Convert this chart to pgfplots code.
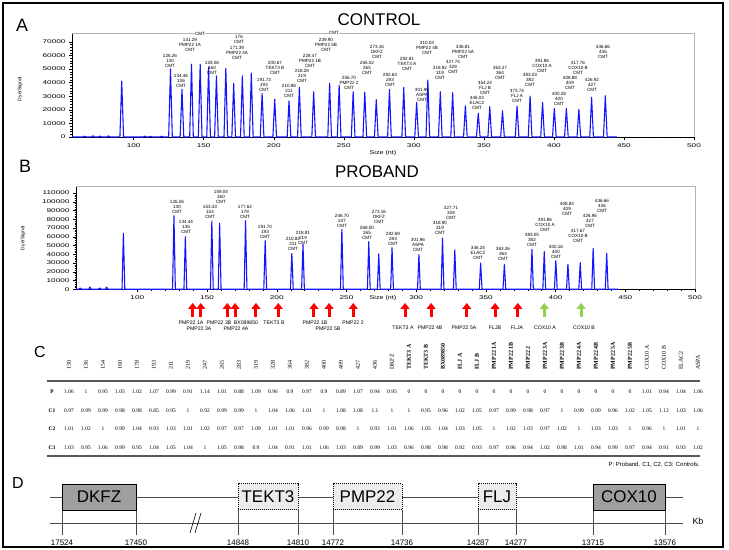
\documentclass[border=0pt]{standalone}
\usepackage{pgfplots}
\pgfplotsset{compat=1.18}
\usepackage{fontspec}
\setmainfont{Liberation Sans}
\newfontfamily\serif{Liberation Serif}
\usetikzlibrary{arrows.meta}
\definecolor{pkblue}{RGB}{20,20,255}
\definecolor{arrred}{RGB}{255,0,0}
\definecolor{arrgreen}{RGB}{146,208,80}
\newcommand\fs[2]{\fontsize{#1}{#2}\selectfont}
\newcommand\tl[1]{\scalebox{1.5}[1]{\fs{5.5}{6}\pgfmathprintnumber[fixed,1000 sep={},assume math mode=true]{#1}}}
\pgfplotsset{ekg/.style={scale only axis, anchor=south west, xmin=56, xmax=500, ymin=0,
  axis x line*=bottom, axis y line*=left, tick align=outside,
  major tick length=3bp, minor tick length=1.5bp,
  xtick={100,150,...,500}, minor x tick num=4, minor y tick num=4,
  scaled y ticks=false, tick style={black, line width=0.4pt},
  xticklabel={\tl{\tick}}, yticklabel={\tl{\tick}},
  axis line style={black,line width=0.5pt}, clip=false,
  after end axis/.code={\draw[gray!60,line width=0.8pt] (rel axis cs:0,1) -- (rel axis cs:1,1) -- (rel axis cs:1,0);}}}
\newcommand\pl[4]{\node[font=\fs{4.6}{5.3}, align=center, anchor=north, inner sep=0pt] at (#1,{#2-2.3}) {#3\\#4\\CMT};}
\begin{document}
\begin{tikzpicture}
\useasboundingbox (0,0) rectangle (729bp,550bp);
% ---------------- Panel A
\begin{axis}[ekg, at={(72bp,413bp)}, width=622bp, height=104bp, ymax=76500, ytick={0,10000,...,70000}]
\addplot[pkblue, line width=1.1pt, line join=round] table {
x y
56 0
64 0
65 600
66 0
70 0
71 900
72 0
75 0
76 700
77 0
81 0
82 800
83 0
90.2 0
91.5 41000
92.8 0
107 0
108 700
109 0
111 0
112 500
113 0
119 0
120 600
121 0
125 0
126.3 50000
127.6 0
133.2 0
134.5 35000
135.8 0
140 0
141.3 53500
142.6 0
146.2 0
147.5 53500
148.8 0
152.2 0
153.5 51500
154.8 0
157.8 0
159.1 45000
160.4 0
164.5 0
165.8 50500
167.1 0
170.1 0
171.4 39500
172.7 0
176.3 0
177.6 45000
178.9 0
182.7 0
184.0 47000
185.3 0
190.4 0
191.7 32000
193.0 0
199.4 0
200.7 27800
202.0 0
209.6 0
210.9 26500
212.2 0
217.0 0
218.3 36500
219.6 0
227.2 0
228.5 33300
229.8 0
238.6 0
239.9 39500
241.2 0
245.4 0
246.7 38200
248.0 0
255.4 0
256.7 33300
258.0 0
263.7 0
265.0 33000
266.3 0
271.9 0
273.2 27500
274.5 0
281.3 0
282.6 35000
283.9 0
291.5 0
292.8 36400
294.1 0
300.7 0
302.0 25500
303.3 0
308.7 0
310.0 41900
311.3 0
317.6 0
318.9 33300
320.2 0
326.4 0
327.7 32600
329.0 0
335.5 0
336.8 23000
338.1 0
344.7 0
346.0 17400
347.3 0
352.9 0
354.2 22300
355.5 0
362.0 0
363.3 19300
364.6 0
372.4 0
373.7 22800
375.0 0
381.7 0
383.0 30100
384.3 0
390.6 0
391.9 25500
393.2 0
399.0 0
400.3 21100
401.6 0
407.6 0
408.9 21100
410.2 0
416.5 0
417.8 20400
419.1 0
425.6 0
426.9 29200
428.2 0
435.4 0
436.7 30400
438.0 0
445 0
};
\end{axis}
% ---------------- Panel B
\begin{axis}[ekg, at={(76bp,260.7bp)}, width=619bp, height=103.3bp, ymax=118000, ytick={0,10000,...,110000}]
\addplot[pkblue, line width=1.1pt, line join=round] table {
x y
56 0
58 0
59 1500
60 0
65 0
66 2500
67 0
72 0
73 1500
74 0
77 0
78 2500
79 0
89 0
90 64000
91 0
125.26 0
126.26 84100
127.26 0
133.44 0
134.44 60100
135.44 0
152.43 0
153.43 78000
154.43 0
158.04 0
159.04 75400
160.04 0
176.62 0
177.62 78400
178.62 0
190.7 0
191.7 55600
192.7 0
209.82 0
210.82 41100
211.82 0
217.81 0
218.81 51400
219.81 0
245.7 0
246.7 68600
247.7 0
265 0
266 54400
267 0
272.16 0
273.16 40300
274.16 0
281.69 0
282.69 47600
283.69 0
300.96 0
301.96 39600
302.96 0
317.9 0
318.9 58300
319.9 0
326.71 0
327.71 44900
328.71 0
345.24 0
346.24 30000
347.24 0
362.26 0
363.26 28500
364.26 0
382.05 0
383.05 45700
384.05 0
390.86 0
391.86 43000
392.86 0
399.16 0
400.16 32700
401.16 0
407.84 0
408.84 28500
409.84 0
416.67 0
417.67 30400
418.67 0
425.96 0
426.96 46800
427.96 0
435.66 0
436.66 41100
437.66 0
445 0
};
\addplot[arrred, line width=3bp, -{Triangle[width=9bp,length=6bp]}, quiver={u=0,v=\thisrow{v}}] table {
x y v
139.7 -31600 16000
145.5 -31600 16000
164.5 -31600 16000
170.1 -31600 16000
185.1 -31600 16000
201.1 -31600 16000
226.7 -31600 16000
237.5 -31600 16000
254.9 -31600 16000
292.0 -31600 16000
310.7 -31600 16000
336.3 -31600 16000
356.6 -31600 16000
372.9 -31600 16000
};
\addplot[arrgreen, line width=3bp, -{Triangle[width=9bp,length=6bp]}, quiver={u=0,v=\thisrow{v}}] table {
x y v
391.9 -31600 16000
418.3 -31600 16000
};
\end{axis}
% ---------------- annotations in pixel coordinates
\begin{scope}[shift={(0,550bp)},x=1bp,y=-1bp]
\draw[line width=1.3bp] (3,3) rectangle (723,547);
\node[font=\fs{18}{18}] at (22,25) {A};
\node[font=\fs{18}{18}] at (25,166) {B};
\node[font=\fs{16}{16}] at (40,352) {C};
\node[font=\fs{16}{16}] at (18,483) {D};
\node[font=\fs{17}{17}] at (379,20) {CONTROL};
\node[font=\fs{17}{17}] at (377,172) {PROBAND};
\node[font=\fs{5}{5}, rotate=90] at (20,89) {Dye/Signal};
\node[font=\fs{5}{5}, rotate=90] at (23,238) {Dye/Signal};
\node[font=\fs{5.5}{5.5}] at (383,153) {\scalebox{1.3}[1]{Size (nt)}};
\node[font=\fs{5.5}{5.5}] at (383,298) {\scalebox{1.3}[1]{Size (nt)}};
% peak labels A
\node[font=\fs{4.6}{5.3}, fill=white, inner sep=0.5pt] at (200,34) {CMT};
\node[font=\fs{4.6}{5.3}, fill=white, inner sep=0.5pt] at (334,33) {CMT};
\node[font=\fs{4.6}{5.3}, align=center, anchor=north, inner sep=0pt] at (239,35) {176\\CMT};
\pl{190}{40}{141.29}{PMP22 1A}
\pl{237}{48}{171.39}{PMP22 4A}
\pl{170}{56}{126.26}{130}
\pl{212}{63}{159.06}{160}
\pl{275}{63}{200.67}{TEKT3 B}
\pl{181}{76}{134.46}{136}
\pl{264}{80}{191.73}{193}
\pl{302}{71}{218.28}{219}
\pl{289}{86}{210.88}{211}
\pl{310}{56}{228.47}{PMP22 1B}
\pl{326}{40}{239.90}{PMP22 5B}
\pl{349}{78}{256.70}{PMP22 2}
\pl{367}{63}{265.02}{265}
\pl{377}{47}{273.16}{DKFZ}
\pl{390}{75}{282.63}{283}
\pl{407}{59}{292.81}{TEKT3 A}
\pl{422}{90}{301.96}{ASPA}
\pl{427}{43}{310.03}{PMP22 4B}
\pl{440}{68}{318.92}{319}
\pl{453}{62}{327.74}{328}
\pl{463}{47}{336.81}{PMP22 5A}
\pl{477}{98}{346.03}{ELAC2}
\pl{485}{83}{354.24}{FLJ B}
\pl{500}{68}{363.27}{364}
\pl{517}{91}{373.74}{FLJ A}
\pl{530}{75}{383.03}{382}
\pl{542}{61}{391.86}{COX10 A}
\pl{559}{94}{400.28}{400}
\pl{570}{78}{408.88}{409}
\pl{578}{63}{417.76}{COX10 B}
\pl{592}{80}{426.92}{427}
\pl{603}{47}{436.66}{436}
% peak labels B
\pl{177}{202}{126.26}{130}
\pl{186}{222}{134.44}{136}
\pl{221}{192}{159.04}{160}
\pl{210}{207}{153.43}{154}
\pl{245}{207}{177.62}{178}
\pl{265}{227}{191.70}{193}
\pl{303}{233}{218.81}{219}
\pl{293}{239}{210.82}{211}
\pl{342}{216}{246.70}{247}
\pl{367}{228}{268.00}{265}
\pl{379}{212}{273.16}{DKFZ}
\pl{393}{234}{282.69}{283}
\pl{418}{240}{301.96}{ASPA}
\pl{440}{223}{318.90}{319}
\pl{451}{208}{327.71}{328}
\pl{478}{248}{346.24}{ELAC2}
\pl{503}{249}{363.26}{364}
\pl{532}{235}{383.05}{382}
\pl{545}{220}{391.86}{COX10 A}
\pl{556}{247}{400.16}{400}
\pl{567}{204}{408.84}{409}
\pl{578}{231}{417.67}{COX10 B}
\pl{590}{216}{426.96}{427}
\pl{602}{201}{436.66}{436}
% arrow labels
\begin{scope}[every node/.style={font=\fs{5.2}{5.2}, inner sep=0pt}]
\node at (191,323) {PMP22 1A};
\node at (219,323) {PMP22 3B};
\node at (246,323) {BX089850};
\node at (274,323) {TEKT3 B};
\node at (315,323) {PMP22 1B};
\node at (353,323) {PMP22 2};
\node at (199,329) {PMP22 3A};
\node at (236,329) {PMP22 4A};
\node at (328,329) {PMP22 5B};
\node at (403,328) {TEKT3 A};
\node at (430,328) {PMP22 4B};
\node at (464,328) {PMP22 5A};
\node at (495,328) {FLJB};
\node at (517,328) {FLJA};
\node at (545,328) {COX10 A};
\node at (584,328) {COX10 B};
\end{scope}
% ---------------- Panel C table
\foreach \h [count=\i from 0] in {130,136,154,160,178,193,211,219,247,265,283,319,328,364,382,400,409,427,436,DKFZ}
  \node[rotate=90, anchor=west, font=\serif\fs{6}{6}, inner sep=0pt] at ({69+17*\i},370) {\h};
\foreach \h [count=\i from 20] in {TEKT3 A,TEKT3 B,BX089850,FLJ A,FLJ B,PMP22 1A,PMP22 1B,PMP22 2,PMP22 3A,PMP22 3B,PMP22 4A,PMP22 4B,PMP22 5A,PMP22 5B}
  \node[rotate=90, anchor=west, font=\serif\bfseries\fs{6}{6}, inner sep=0pt] at ({69+17*\i},370) {\h};
\foreach \h [count=\i from 34] in {COX10 A,COX10 B,ELAC2,ASPA}
  \node[rotate=90, anchor=west, font=\serif\fs{6}{6}, inner sep=0pt] at ({69+17*\i},370) {\h};
\draw[gray!70!black, line width=1.4bp] (47,381) -- (700,381);
\draw[gray!70!black, line width=1.4bp] (47,456) -- (700,456);
\begin{scope}[every node/.style={font=\serif\fs{5.5}{5.5}, inner sep=0pt}]
\node[font=\serif\bfseries\fs{5.5}{5.5}] at (52,392) {P};
\node[font=\serif\bfseries\fs{5.5}{5.5}] at (52,411) {C1};
\node[font=\serif\bfseries\fs{5.5}{5.5}] at (52,429) {C2};
\node[font=\serif\bfseries\fs{5.5}{5.5}] at (52,448) {C3};
\foreach \v [count=\i from 0] in {1.06,1,0.95,1.05,1.02,1.07,0.99,0.91,1.14,1.01,0.88,1.09,0.96,0.9,0.97,0.9,0.89,1.07,0.94,0.95,0,0,0,0,0,0,0,0,0,0,0,0,0,0,1.01,0.94,1.04,1.06}
  \node at ({69+17*\i},392) {\v};
\foreach \v [count=\i from 0] in {0.97,0.99,0.99,0.98,0.98,0.85,0.95,1,0.92,0.99,0.99,1,1.04,1.06,1.01,1,1.08,1.08,1.1,1,1,0.95,0.96,1.02,1.05,0.97,0.99,0.98,0.97,1,0.99,0.99,0.96,1.02,1.05,1.12,1.03,1.06}
  \node at ({69+17*\i},411) {\v};
\foreach \v [count=\i from 0] in {1.01,1.02,1,0.99,1.04,0.93,1.03,1.01,1.02,0.97,0.97,1.09,1.01,1.01,0.96,0.99,0.98,1,0.93,1.01,1.06,1.05,1.04,1.03,1.05,1,1.02,1.03,0.97,1.02,1,1.03,1.03,1,0.96,1,1.01,1}
  \node at ({69+17*\i},429) {\v};
\foreach \v [count=\i from 0] in {1.03,0.95,1.06,0.99,0.95,1.04,1.05,1.04,1,1.05,0.98,0.9,1.04,0.91,1.01,1.06,1.03,0.89,0.99,1.03,0.96,0.98,0.98,0.92,0.93,0.97,0.96,0.94,1.02,0.98,1.01,0.94,0.99,0.97,0.94,0.91,0.93,1.02}
  \node at ({69+17*\i},448) {\v};
\end{scope}
\node[anchor=east, font=\fs{6}{6}, inner sep=0pt] at (700,465) {P: Proband. C1, C2, C3: Controls.};
% ---------------- Panel D
\draw[gray!60!black, line width=0.8bp] (50,497) -- (683,497);
\draw[gray!60!black, line width=0.8bp] (50,523) -- (683,523);
\foreach \x/\t in {62/17524,136/17450,238/14848,298/14810,333/14772,402/14736,478/14287,516/14277,593/13715,665/13576}{
  \draw[gray!60!black, line width=0.7bp] (\x,510) -- (\x,535);
  \node[font=\fs{8}{8}, inner sep=0pt] at (\x,543) {\t};
}
\draw[black, fill=gray!75, line width=0.8bp] (62,484) rectangle (136,510);
\draw[black, fill=gray!75, line width=0.8bp] (593,484) rectangle (665,510);
\draw[black, fill=gray!15, densely dotted, line width=1bp] (238,484) rectangle (298,510);
\draw[black, fill=gray!15, densely dotted, line width=1bp] (333,484) rectangle (402,510);
\draw[black, fill=gray!15, densely dotted, line width=1bp] (478,484) rectangle (516,510);
\node[font=\fs{17}{17}] at (99,497) {DKFZ};
\node[font=\fs{17}{17}] at (268,497) {TEKT3};
\node[font=\fs{17}{17}] at (367.5,497) {PMP22};
\node[font=\fs{17}{17}] at (497,497) {FLJ};
\node[font=\fs{17}{17}] at (629,497) {COX10};
\node[font=\fs{9}{9}] at (698,521) {Kb};
\draw[line width=0.6bp] (190,533) -- (196,513);
\draw[line width=0.6bp] (195,533) -- (201,513);
\end{scope}
\end{tikzpicture}
\end{document}
